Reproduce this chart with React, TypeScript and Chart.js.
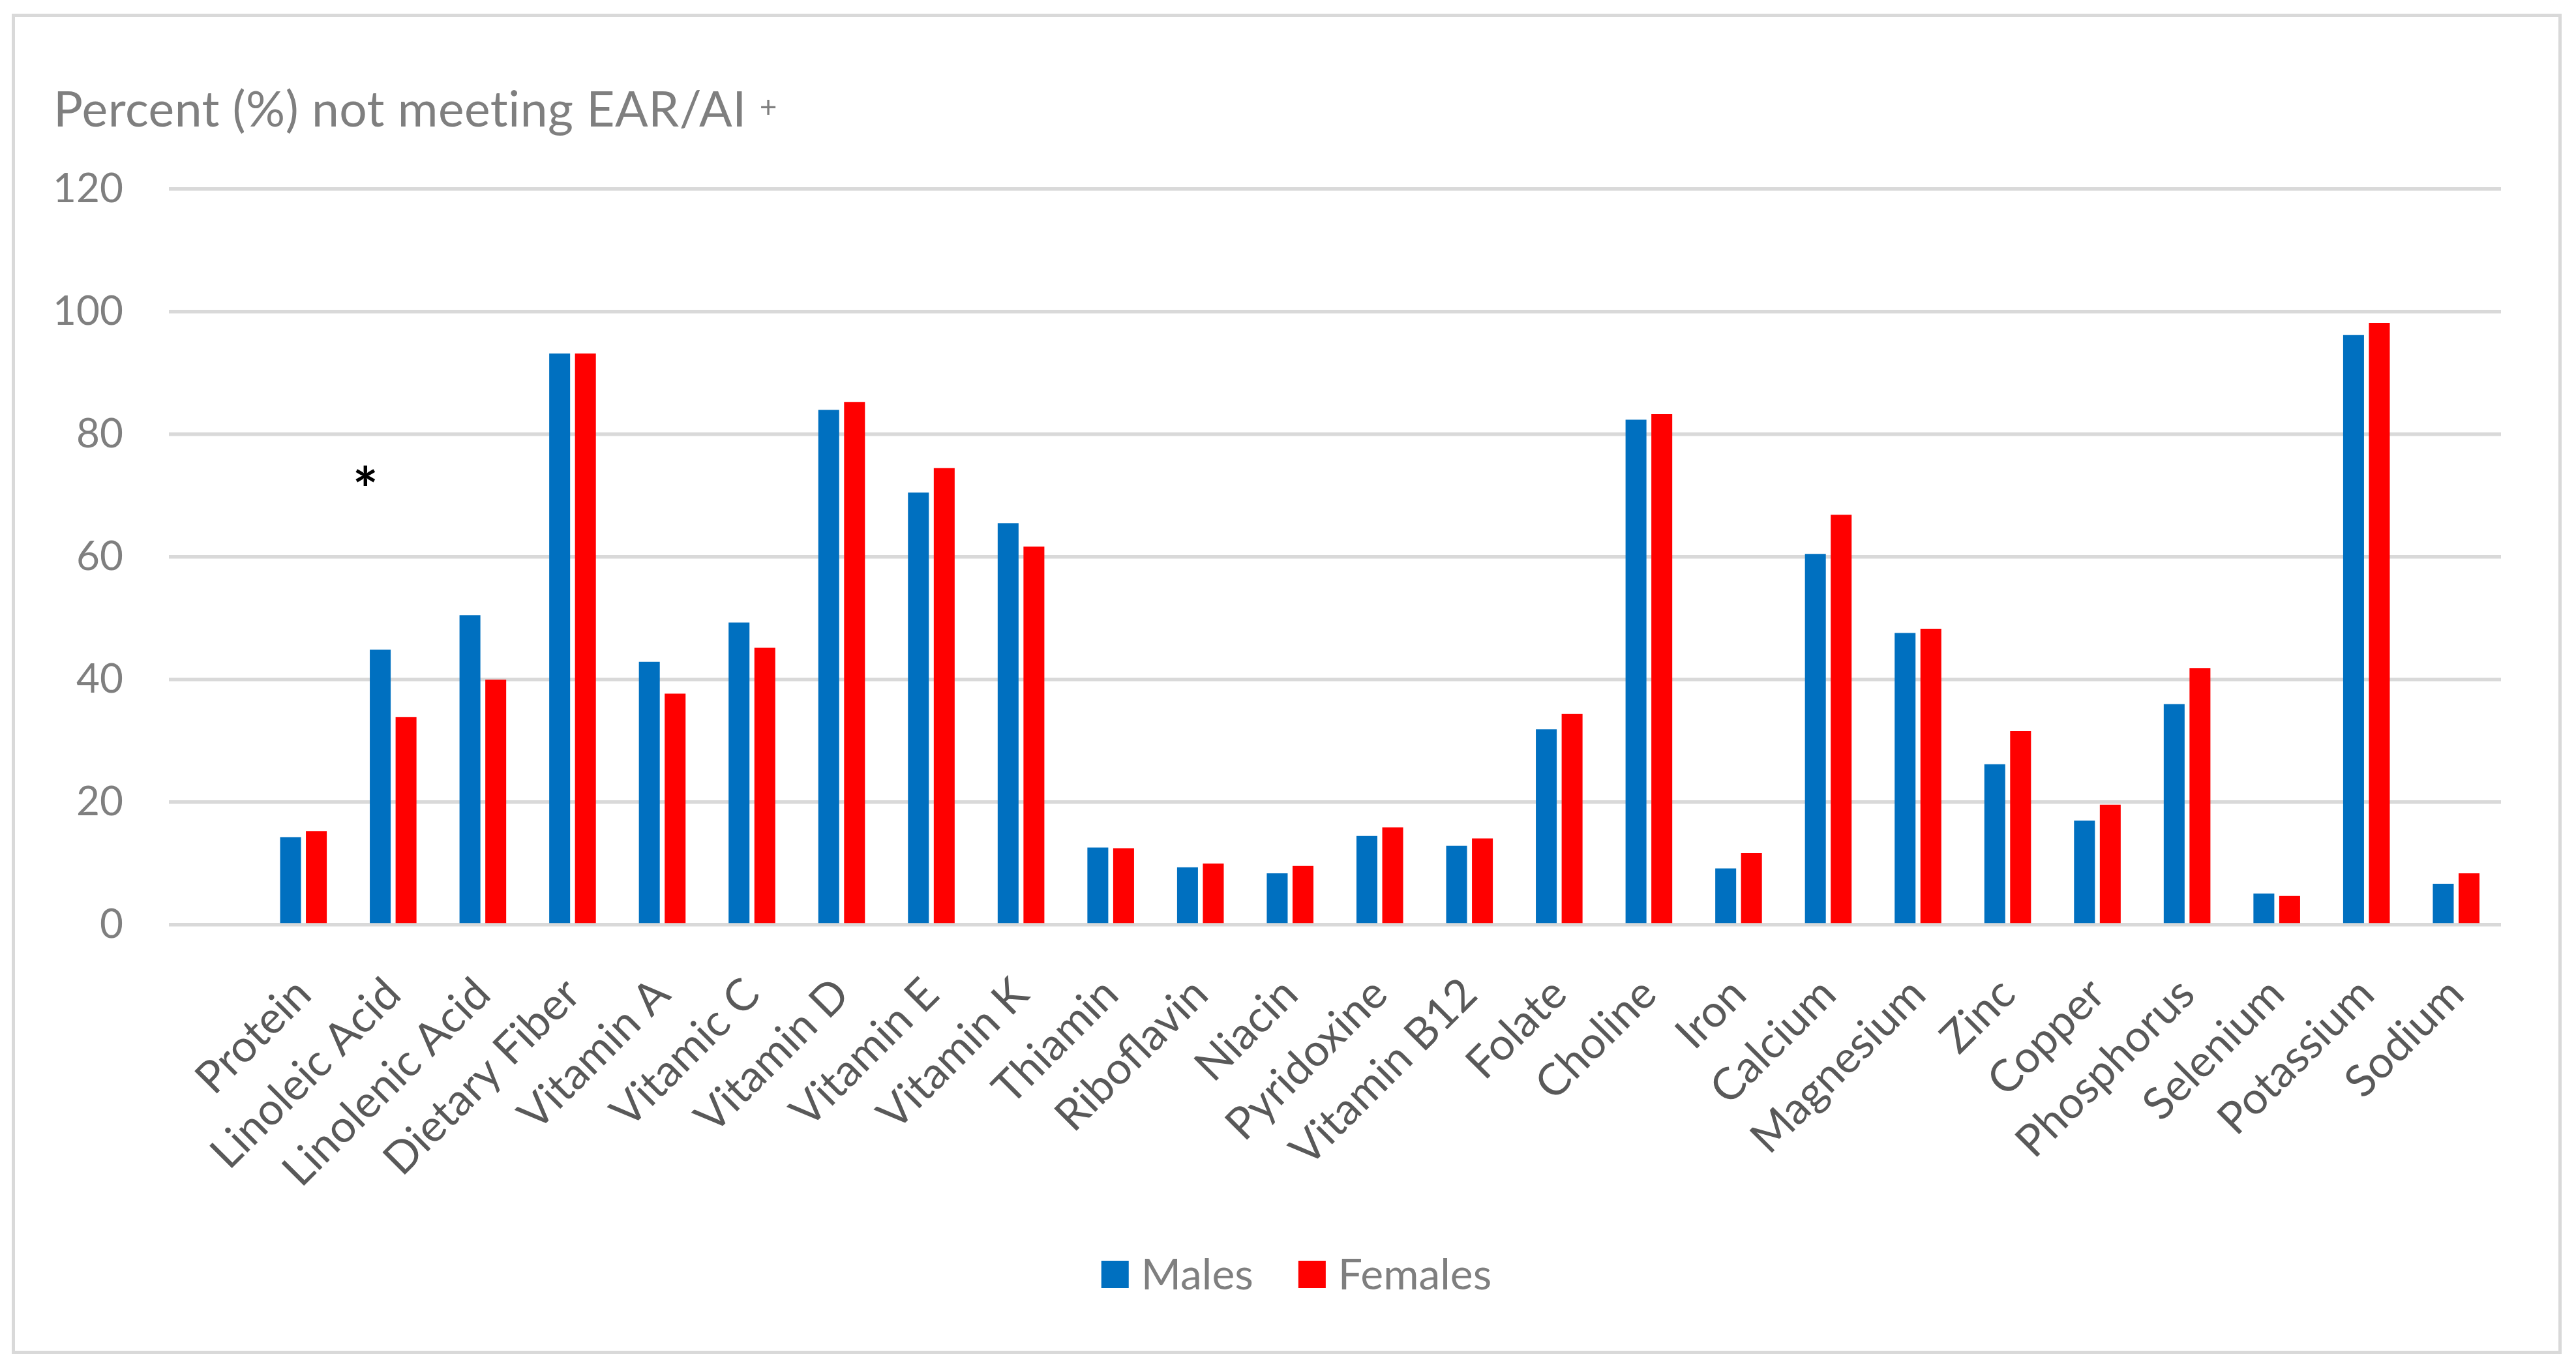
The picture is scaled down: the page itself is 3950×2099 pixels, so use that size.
import React, { useEffect, useRef } from 'react';
import { Chart, registerables } from 'chart.js';

Chart.register(...registerables);

const categories: string[] = ['', 'Protein', 'Linoleic Acid', 'Linolenic Acid', 'Dietary Fiber', 'Vitamin A', 'Vitamic C', 'Vitamin D', 'Vitamin E', 'Vitamin K', 'Thiamin', 'Riboflavin', 'Niacin', 'Pyridoxine', 'Vitamin B12', 'Folate', 'Choline', 'Iron', 'Calcium', 'Magnesium', 'Zinc', 'Copper', 'Phosphorus', 'Selenium', 'Potassium', 'Sodium'];
const males: (number | null)[] = [null, 14.3, 44.9, 50.5, 93.2, 42.9, 49.3, 84.0, 70.5, 65.5, 12.6, 9.4, 8.4, 14.5, 12.9, 31.9, 82.4, 9.2, 60.5, 47.6, 26.2, 17.0, 36.0, 5.1, 96.2, 6.7];
const females: (number | null)[] = [null, 15.3, 33.9, 40.0, 93.2, 37.7, 45.2, 85.3, 74.5, 61.7, 12.5, 10.0, 9.6, 15.9, 14.1, 34.4, 83.3, 11.7, 66.9, 48.3, 31.6, 19.6, 41.9, 4.7, 98.2, 8.4];
const seriesNames: string[] = ['Males', 'Females'];
const seriesColors: string[] = ['#0070C0', '#FF0000'];
const yMin = 0;
const yMax = 120;
const yStep = 20;
const titleText = 'Percent (%) not meeting EAR/AI';
const titleSup = '+';
const asteriskCategory = 'Linoleic Acid';
const asteriskValue = 72;

const FONT = 'Lato, "DejaVu Sans", sans-serif';
const W = 3950;
const H = 2099;

const decorPlugin = {
  id: 'decor',
  beforeDraw(chart: any) {
    const ctx = chart.ctx;
    ctx.save();
    ctx.fillStyle = '#ffffff';
    ctx.fillRect(0, 0, chart.width, chart.height);
    ctx.strokeStyle = '#d9d9d9';
    ctx.lineWidth = 5;
    ctx.strokeRect(20.5, 23.5, 3905, 2050);
    ctx.restore();
  },
  afterDraw(chart: any) {
    const ctx = chart.ctx;
    ctx.save();
    // title
    ctx.fillStyle = '#7f7f7f';
    ctx.font = `75px ${FONT}`;
    ctx.textAlign = 'left';
    ctx.textBaseline = 'alphabetic';
    try { (ctx as any).letterSpacing = '0.5px'; } catch (e) { /* ignore */ }
    ctx.fillText(titleText, 82, 194);
    const tw = ctx.measureText(titleText).width;
    ctx.font = `46px ${FONT}`;
    ctx.fillText(titleSup, 82 + tw + 20, 180);
    try { (ctx as any).letterSpacing = '0px'; } catch (e) { /* ignore */ }

    // asterisk
    const xs = chart.scales.x;
    const ys = chart.scales.y;
    const idx = categories.indexOf(asteriskCategory);
    const band = (xs.right - xs.left) / categories.length;
    ctx.fillStyle = '#000000';
    ctx.font = `bold 92px ${FONT}`;
    ctx.textAlign = 'center';
    ctx.textBaseline = 'middle';
    ctx.fillText('*', xs.getPixelForValue(idx) - 0.31 * band, ys.getPixelForValue(asteriskValue) + 13);

    // legend
    ctx.font = `66px ${FONT}`;
    ctx.textBaseline = 'middle';
    ctx.textAlign = 'left';
    const box = 42;
    const gapText = 19;
    const gapItem = 69;
    const items = chart.data.datasets.map((ds: any) => ({ label: ds.label, color: ds.backgroundColor, w: ctx.measureText(ds.label).width }));
    let total = 0;
    items.forEach((it: any, i: number) => { total += box + gapText + it.w + (i > 0 ? gapItem : 0); });
    let x = chart.width / 2 + 13 - total / 2;
    const yc = 1954;
    items.forEach((it: any) => {
      ctx.fillStyle = it.color;
      ctx.fillRect(x, yc - box / 2, box, box);
      x += box + gapText;
      ctx.fillStyle = '#7f7f7f';
      ctx.fillText(it.label, x, yc + 2);
      x += it.w + gapItem;
    });
    ctx.restore();
  },
};

export default function App() {
  const ref = useRef<HTMLCanvasElement | null>(null);
  useEffect(() => {
    if (!ref.current) return;
    const chart = new Chart(ref.current, {
      type: 'bar',
      data: {
        labels: categories,
        datasets: [
          { label: seriesNames[0], data: males, backgroundColor: seriesColors[0], categoryPercentage: 0.575, barPercentage: 0.81 },
          { label: seriesNames[1], data: females, backgroundColor: seriesColors[1], categoryPercentage: 0.575, barPercentage: 0.81 },
        ],
      },
      options: {
        responsive: false,
        animation: false,
        devicePixelRatio: 1,
        layout: { padding: { left: 0, top: 290, right: 115, bottom: 0 } },
        plugins: {
          legend: { display: false },
          title: { display: false },
          tooltip: { enabled: false },
        },
        scales: {
          x: {
            grid: { display: false, drawTicks: false },
            border: { display: false },
            ticks: {
              autoSkip: false,
              minRotation: 45,
              maxRotation: 45,
              padding: 66,
              color: '#595959',
              font: { family: FONT, size: 68 },
            },
            afterFit: (scale: any) => { scale.height = H - 1418; },
          },
          y: {
            min: yMin,
            max: yMax,
            grid: { color: '#d9d9d9', lineWidth: 5.5, drawTicks: false },
            border: { display: false },
            ticks: {
              stepSize: yStep,
              padding: 70,
              color: '#7f7f7f',
              font: { family: FONT, size: 62 },
            },
            afterFit: (scale: any) => { scale.width = 259; },
          },
        },
      },
      plugins: [decorPlugin],
    });
    return () => chart.destroy();
  }, []);
  return (
    <div style={{ position: 'fixed', left: 0, top: 0, width: W, height: H, background: '#fff' }}>
      <canvas ref={ref} width={W} height={H} style={{ display: 'block', width: W, height: H }} />
    </div>
  );
}
